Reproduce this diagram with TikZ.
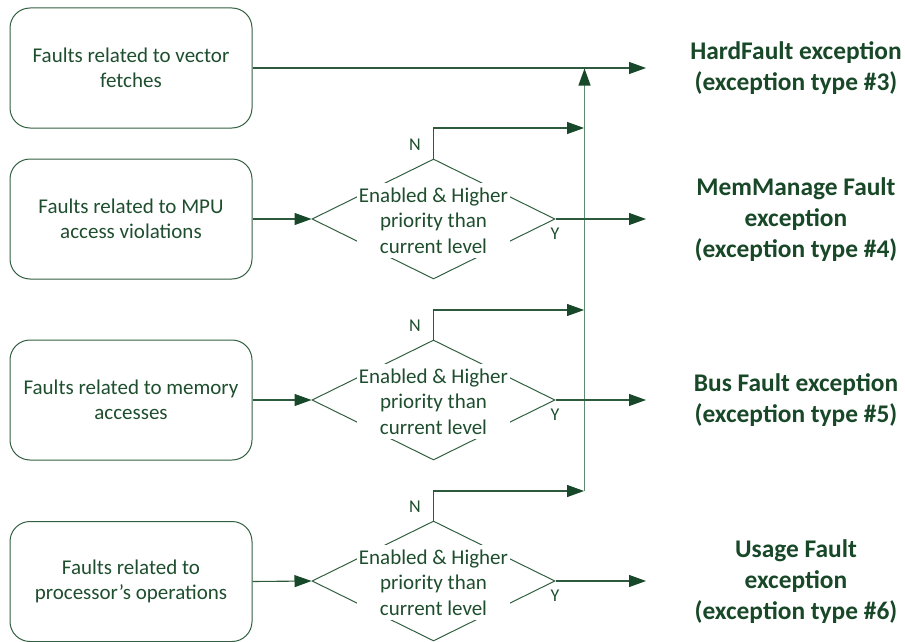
\documentclass[tikz,border=0pt]{standalone}
\usepackage{fontspec}
\setmainfont{Carlito}
\usetikzlibrary{arrows.meta,shapes.geometric}
\definecolor{txtgreen}{RGB}{30,78,46}
\definecolor{titlegreen}{RGB}{24,72,40}
\definecolor{linegreen}{RGB}{45,90,60}
\definecolor{vertgreen}{RGB}{95,140,110}
\definecolor{boxgreen}{RGB}{50,95,65}
\definecolor{tipgreen}{RGB}{23,72,42}
\begin{document}
\begin{tikzpicture}[x=1pt,y=-1pt,
  srcbox/.style={draw=boxgreen,line width=1pt,rounded corners=20pt,minimum width=242pt,minimum height=120pt,inner sep=0pt,align=center,text=txtgreen,font=\fontsize{21}{25.5}\selectfont},
  decbox/.style={draw=boxgreen,line width=1pt,diamond,minimum width=243pt,minimum height=120pt,inner sep=0pt},
  dectext/.style={fill=white,minimum width=153pt,minimum height=75pt,inner sep=0pt,align=center,text=txtgreen,font=\fontsize{21}{25.5}\selectfont},
  title/.style={align=center,text=titlegreen,font=\bfseries\fontsize{25.4}{31}\selectfont},
  lbl/.style={text=txtgreen,font=\fontsize{18}{20}\selectfont,inner sep=0pt},
  conn/.style={draw=linegreen,line width=1.1pt,-{Triangle[length=17pt,width=12pt,color=tipgreen]}},
]
\useasboundingbox (0,0) rectangle (905,642);

% source boxes
\node[srcbox] (b1) at (131,68) {Faults related to vector\\fetches};
\node[srcbox] (b2) at (131,219) {Faults related to MPU\\access violations};
\node[srcbox] (b3) at (131,400) {Faults related to memory\\accesses};
\node[srcbox] (b4) at (131,581.5) {Faults related to\\processor’s operations};

% decisions
\node[decbox] (d1) at (433.5,219) {};
\node[decbox] (d2) at (433.5,400) {};
\node[decbox] (d3) at (433.5,581) {};
\node[dectext] (t1) at (433.5,220.5) {Enabled \& Higher\\priority than\\current level};
\node[dectext] (t2) at (433.5,401.5) {Enabled \& Higher\\priority than\\current level};
\node[dectext] (t3) at (433.5,582.5) {Enabled \& Higher\\priority than\\current level};

% titles
\node[title] (h3) at (796,68.5) {HardFault exception\\(exception type \#3)};
\node[title] (h4) at (796,219.5) {MemManage Fault\\exception\\(exception type \#4)};
\node[title] (h5) at (796,400.5) {Bus Fault exception\\(exception type \#5)};
\node[title] (h6) at (796,582) {Usage Fault\\exception\\(exception type \#6)};

% coordinates
\coordinate (e3) at (646,68);
\coordinate (e4) at (646,219);
\coordinate (e5) at (646,400);
\coordinate (e6) at (646,581);
\coordinate (vtop) at (584.5,68.5);
\coordinate (vbot) at (584.5,491);
\coordinate (n1) at (584,128);
\coordinate (n2) at (584,310);
\coordinate (n3) at (584,491);

% vertical collector
\draw[conn,draw=vertgreen] (vbot) -- (vtop);

% connectors
\draw[conn] (b1.east) -- (e3);
\draw[conn] (b2.east) -- (d1.west);
\draw[conn] (b3.east) -- (d2.west);
\draw[conn] (b4.east) -- (d3.west);
\draw[conn] (d1.east) -- (e4);
\draw[conn] (d2.east) -- (e5);
\draw[conn] (d3.east) -- (e6);
\draw[conn] (d1.north) |- (n1);
\draw[conn] (d2.north) |- (n2);
\draw[conn] (d3.north) |- (n3);

% labels
\node[lbl] (ln1) at (415,145) {N};
\node[lbl] (ln2) at (415,326) {N};
\node[lbl] (ln3) at (415,507) {N};
\node[lbl] (ly1) at (555,234) {Y};
\node[lbl] (ly2) at (555,415) {Y};
\node[lbl] (ly3) at (555,596) {Y};
\end{tikzpicture}
\end{document}
